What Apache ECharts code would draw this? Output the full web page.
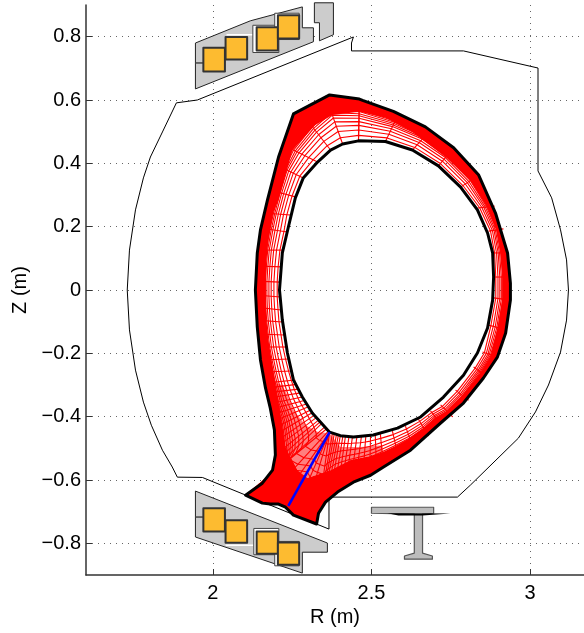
<!DOCTYPE html>
<html><head><meta charset="utf-8">
<style>html,body{margin:0;padding:0;background:#fff}#c{width:584px;height:633px}</style>
<script src="https://cdn.jsdelivr.net/npm/echarts@6/dist/echarts.min.js"></script>
</head><body><div id="c"></div>
<script>
const rTicks = [2, 2.5, 3];
const zTicks = [-0.8, -0.6, -0.4, -0.2, 0, 0.2, 0.4, 0.6, 0.8];

// Every outline below is [R, Z] in metres.
const wall = [[1.885,.591],[1.951,.600],[2.443,.799],[2.437,.780],[2.437,.755],[2.790,.755],[3.025,.701],[3.025,.376],[3.068,.291],[3.096,.190],[3.115,.095],[3.121,0],[3.115,-.095],[3.096,-.196],[3.058,-.300],[3.017,-.385],[2.963,-.468],[2.812,-.616],[2.771,-.654],[2.366,-.654],[2.366,-.755],[1.967,-.592],[1.888,-.591],[1.872,-.559],[1.841,-.506],[1.806,-.427],[1.781,-.354],[1.756,-.253],[1.737,-.126],[1.730,0],[1.737,.126],[1.756,.253],[1.781,.354],[1.803,.420],[1.841,.499],[1.885,.591]];
const topBlock = [[1.945,.780],[2.118,.850],[2.282,.894],[2.282,.828],[2.317,.828],[2.317,.784],[1.945,.635]];
const topTab = [[2.320,.907],[2.380,.907],[2.380,.806],[2.336,.787],[2.336,.844],[2.320,.844]];
const bottomBlock = [[1.945,-.635],[2.361,-.799],[2.361,-.828],[2.282,-.828],[2.282,-.894],[1.945,-.780]];
const blockNotches = [[[1.945,.717],[1.973,.717]],[[1.945,-.717],[1.973,-.717]]];
const blockSlits = [[[2.043,.806],[2.128,.806]],[[2.040,-.806],[2.128,-.806]]];
// Coils as [R0, Z0, R1, Z1]
const coils = [[1.970,.765,2.038,.690],[2.040,.799,2.108,.728],[2.138,.830,2.205,.756],[2.205,.868,2.272,.794],
               [1.970,-.689,2.038,-.763],[2.040,-.727,2.108,-.798],[2.138,-.763,2.205,-.833],[2.205,-.797,2.272,-.868]];
const coilJackets = [[2.126,.836,2.208,.750],[2.195,.874,2.272,.791],[2.129,-.753,2.208,-.836],[2.195,-.794,2.272,-.871]];
const beam = [[2.500,-.686],[2.696,-.686],[2.696,-.705],[2.661,-.708],[2.661,-.831],[2.692,-.840],[2.692,-.850],[2.604,-.850],[2.604,-.840],[2.635,-.831],[2.635,-.708],[2.500,-.705]];
const beamShadow = [[2.550,-.705],[2.749,-.706],[2.661,-.712],[2.585,-.712]];

const outerContour = [[2.462,.603],[2.472,.599],[2.569,.564],[2.670,.515],[2.759,.449],[2.838,.363],[2.891,.243],[2.929,.117],[2.938,.022],[2.938,-.032],[2.923,-.136],[2.897,-.212],[2.853,-.278],[2.790,-.357],[2.718,-.420],[2.623,-.506],[2.538,-.559],[2.497,-.585],[2.443,-.607],[2.393,-.638],[2.355,-.670],[2.333,-.705],[2.327,-.739],[2.254,-.711],[2.229,-.686],[2.207,-.676],[2.181,-.676],[2.156,-.673],[2.103,-.648],[2.156,-.610],[2.188,-.569],[2.197,-.521],[2.194,-.442],[2.181,-.373],[2.166,-.310],[2.150,-.221],[2.140,-.117],[2.134,0],[2.140,.117],[2.150,.190],[2.172,.284],[2.207,.420],[2.254,.556],[2.368,.616],[2.462,.603]];
const innerContour = [[2.459,.471],[2.544,.469],[2.629,.442],[2.711,.392],[2.781,.325],[2.834,.253],[2.866,.180],[2.882,.117],[2.885,.041],[2.882,-.032],[2.866,-.120],[2.834,-.199],[2.790,-.269],[2.727,-.338],[2.655,-.401],[2.582,-.436],[2.506,-.458],[2.443,-.464],[2.402,-.460],[2.368,-.449],[2.314,-.389],[2.282,-.338],[2.254,-.284],[2.235,-.199],[2.219,-.095],[2.210,0],[2.219,.117],[2.238,.199],[2.260,.291],[2.285,.354],[2.330,.404],[2.371,.442],[2.409,.461],[2.459,.471]];
// Inner limit of the area where the mesh reads as solid red.
const solidEdge = [[2.462,.563],[2.544,.544],[2.629,.499],[2.737,.417],[2.809,.348],[2.863,.265],[2.894,.190],[2.907,.117],[2.913,.041],[2.913,-.028],[2.897,-.120],[2.875,-.212],[2.844,-.262],[2.784,-.335],[2.737,-.382],[2.702,-.404],[2.664,-.436],[2.620,-.468],[2.576,-.493],[2.535,-.512],[2.494,-.525],[2.434,-.537],[2.371,-.569],[2.298,-.594],[2.267,-.569],[2.229,-.496],[2.213,-.389],[2.197,-.294],[2.185,-.221],[2.175,-.158],[2.169,-.095],[2.166,0],[2.169,.095],[2.175,.158],[2.191,.246],[2.207,.284],[2.251,.442],[2.323,.521],[2.377,.553],[2.462,.563]];
// Pale hatched wedges either side of the cut, where the mesh is too fine to resolve.
const hatchWedges = [
  [[2.197,-.294],[2.219,-.300],[2.235,-.332],[2.254,-.379],[2.292,-.427],[2.333,-.449],[2.368,-.452],[2.298,-.594],[2.267,-.569],[2.229,-.496],[2.213,-.389]],
  [[2.368,-.452],[2.402,-.496],[2.465,-.496],[2.535,-.490],[2.535,-.512],[2.494,-.525],[2.434,-.537],[2.371,-.569],[2.298,-.594]]
];
const separatrixCut = [[2.368,-.449],[2.238,-.682]];

// Mesh spokes, clockwise: [innerR, innerZ, outerR, outerZ]
const spokes = [[2.459,.471,2.462,.603],[2.544,.469,2.585,.556],[2.629,.442,2.686,.506],[2.711,.392,2.759,.449],[2.781,.325,2.838,.363],[2.834,.259,2.888,.265],[2.869,.186,2.916,.193],[2.882,.117,2.929,.117],[2.885,.041,2.938,.041],[2.885,-.025,2.938,-.032],[2.869,-.111,2.926,-.126],[2.850,-.196,2.897,-.212],[2.822,-.243,2.860,-.272],[2.765,-.316,2.806,-.348],[2.718,-.363,2.756,-.401],[2.686,-.382,2.718,-.420],[2.648,-.408,2.680,-.461],[2.607,-.430,2.632,-.499],[2.566,-.446,2.585,-.528],[2.528,-.455,2.538,-.559],[2.512,-.458,2.516,-.572],[2.497,-.461,2.494,-.585],[2.482,-.463,2.472,-.595],[2.468,-.464,2.450,-.604],[2.454,-.464,2.434,-.612],[2.440,-.464,2.418,-.619],[2.429,-.463,2.405,-.629],[2.418,-.461,2.393,-.638],[2.410,-.460,2.380,-.648],[2.402,-.458,2.368,-.657],[2.396,-.456,2.356,-.672],[2.390,-.455,2.345,-.686],[2.383,-.453,2.339,-.698],[2.377,-.452,2.333,-.711],[2.368,-.449,2.327,-.739],[2.368,-.449,2.285,-.725],[2.368,-.449,2.254,-.711],[2.368,-.449,2.238,-.682],[2.368,-.449,2.207,-.676],[2.364,-.446,2.156,-.673],[2.358,-.439,2.103,-.648],[2.352,-.433,2.156,-.610],[2.342,-.423,2.188,-.569],[2.337,-.417,2.193,-.545],[2.333,-.411,2.197,-.521],[2.326,-.403,2.197,-.500],[2.320,-.395,2.197,-.480],[2.314,-.387,2.196,-.458],[2.308,-.379,2.194,-.436],[2.301,-.369,2.190,-.415],[2.295,-.360,2.185,-.395],[2.288,-.349,2.180,-.377],[2.282,-.338,2.175,-.360],[2.276,-.325,2.172,-.342],[2.270,-.313,2.169,-.325],[2.265,-.298,2.165,-.310],[2.260,-.284,2.162,-.294],[2.251,-.256,2.156,-.259],[2.241,-.218,2.150,-.221],[2.232,-.180,2.144,-.180],[2.226,-.142,2.140,-.139],[2.219,-.101,2.137,-.095],[2.216,-.063,2.134,-.054],[2.213,-.022,2.134,-.016],[2.213,.025,2.134,.028],[2.216,.073,2.137,.076],[2.222,.126,2.140,.126],[2.235,.183,2.150,.196],[2.244,.237,2.162,.243],[2.260,.294,2.180,.316],[2.285,.354,2.200,.395],[2.330,.404,2.222,.458],[2.371,.442,2.289,.547],[2.409,.461,2.355,.613],[2.459,.471,2.462,.603]];
// Where the flux surfaces sit between the inner and outer end of each spoke,
// estimated from the spacing in the picture. The surfaces themselves are built
// from these fractions: the mesh is too dense to read line by line.
const fluxFractions = [.13,.26,.37,.46,.54,.60,.65,.70,.74,.78,.81,.84];

const rect = c => [[c[0],c[1]],[c[2],c[1]],[c[2],c[3]],[c[0],c[3]]];
const surface = f => spokes.map(s => [s[0]+(s[2]-s[0])*f, s[1]+(s[3]-s[1])*f]);
const RED='#ff0000', GREY='#cccccc', INK='#000000', ORANGE='#fdbb30';

const shapes = [];
const add = (pts, closed, fill, stroke, lw) => shapes.push({pts, closed, fill, stroke, lw});
add(wall, false, null, INK, 1);
[topBlock, topTab, bottomBlock].forEach(p => add(p, true, GREY, '#222', 1));
blockNotches.forEach(p => add(p, false, null, '#444', 1.5));
blockSlits.forEach(p => add(p, false, null, '#ffffff', 1.5));
coilJackets.forEach(c => add(rect(c), true, '#ffffff', '#444', 1));
coils.forEach(c => add(rect(c), true, ORANGE, '#333', 2));
add(beam, true, '#bdbdbd', '#555', 1.2);
add(beamShadow, true, INK, null, 0);
add(outerContour.concat(solidEdge.slice().reverse()), true, RED, null, 0);
hatchWedges.forEach(p => add(p, true, 'rgba(255,0,0,0.5)', null, 0));
fluxFractions.forEach(f => add(surface(f), false, null, RED, 1.1));
spokes.forEach(s => add([[s[0],s[1]],[s[2],s[3]]], false, null, RED, 1.1));
add(outerContour, true, null, INK, 3);
add(innerContour, true, null, INK, 3);
add(separatrixCut, false, null, '#0000ff', 2.5);

const font = 'Liberation Sans';
const fmt1 = v => v === 0 ? '0' : (v < 0 ? '\u2212' : '') + Math.abs(v).toFixed(1);
const gridLine = {show:true, lineStyle:{color:'#666', width:1, type:[1,5]}};
const axisBase = {
  axisLine:{show:true, onZero:false, lineStyle:{color:'#333', width:1.5}},
  splitLine:gridLine, nameLocation:'middle',
  nameTextStyle:{fontFamily:font, fontSize:20, color:'#000'}
};
const chart = echarts.init(document.getElementById('c'), null, {renderer:'canvas'});
chart.setOption({
  animation:false,
  grid:{left:86, right:0, top:5, height:570, outerBoundsMode:'none'},
  xAxis:Object.assign({}, axisBase, {
    type:'value', min:1.6, max:3.17, name:'R (m)', nameGap:25,
    axisTick:{show:true, inside:true, length:6, customValues:rTicks, lineStyle:{color:'#333'}},
    axisLabel:{customValues:rTicks, fontFamily:font, fontSize:20, color:'#000', margin:8, formatter:v=>String(v)}
  }),
  yAxis:Object.assign({}, axisBase, {
    type:'value', min:-0.9, max:0.9, name:'Z (m)', nameGap:52,
    axisTick:{show:true, inside:true, length:6, customValues:zTicks, lineStyle:{color:'#333'}},
    axisLabel:{customValues:zTicks, fontFamily:font, fontSize:20, color:'#000', margin:5, formatter:fmt1}
  }),
  series:[{
    type:'custom', coordinateSystem:'cartesian2d', silent:true, clip:false,
    data:shapes.map((s,i)=>[i]),
    renderItem:(params, api) => {
      const s = shapes[params.dataIndex];
      return {
        type:s.closed ? 'polygon' : 'polyline',
        shape:{points:s.pts.map(p=>api.coord(p))},
        style:{fill:s.fill||'none', stroke:s.stroke||'none', lineWidth:s.lw, lineJoin:'round'}
      };
    }
  }]
});
</script></body></html>
